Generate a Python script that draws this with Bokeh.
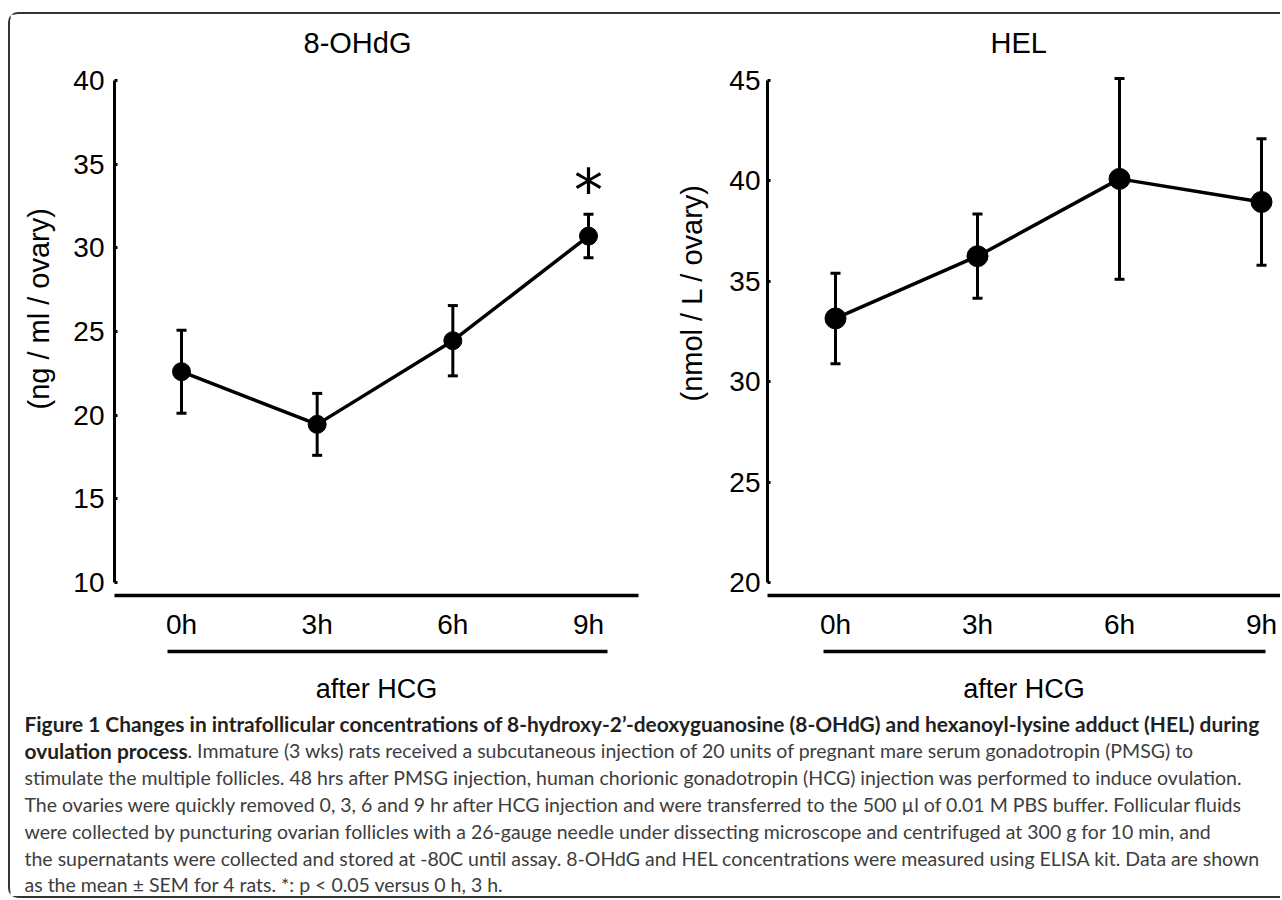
from bokeh.plotting import figure
from bokeh.layouts import column, row
from bokeh.models import Range1d, FixedTicker, LinearAxis, Title, Whisker, TeeHead, ColumnDataSource
from bokeh.core.properties import value
from bokeh.embed import file_html
from bokeh.resources import INLINE

# ---------------- data ----------------
hours = [0, 3, 6, 9]
time_labels = ["0h", "3h", "6h", "9h"]
x_title = "after HCG"

ohdg_title = "8-OHdG"
ohdg_ylabel = "(ng / ml / ovary)"
ohdg_mean = [22.6, 19.45, 24.45, 30.7]
ohdg_sem = [2.48, 1.85, 2.1, 1.3]
ohdg_ticks = [10, 15, 20, 25, 30, 35, 40]
ohdg_sig = [False, False, False, True]

hel_title = "HEL"
hel_ylabel = "(nmol / L / ovary)"
hel_mean = [33.15, 36.25, 40.1, 38.95]
hel_sem = [2.25, 2.1, 5.0, 3.15]
hel_ticks = [20, 25, 30, 35, 40, 45]
hel_sig = [False, False, False, False]

caption_bold_1 = "Figure 1 Changes in intrafollicular concentrations of 8-hydroxy-2\u2019-deoxyguanosine (8-OHdG) and hexanoyl-lysine adduct (HEL) during"
caption_bold_2 = "ovulation process"
caption_rest_2 = ". Immature (3 wks) rats received a subcutaneous injection of 20 units of pregnant mare serum gonadotropin (PMSG) to"
caption_lines = [
    "stimulate the multiple follicles. 48 hrs after PMSG injection, human chorionic gonadotropin (HCG) injection was performed to induce ovulation.",
    "The ovaries were quickly removed 0, 3, 6 and 9 hr after HCG injection and were transferred to the 500 \u00b5l of 0.01 M PBS buffer. Follicular fluids",
    "were collected by puncturing ovarian follicles with a 26-gauge needle under dissecting microscope and centrifuged at 300 g for 10 min, and",
    "the supernatants were collected and stored at -80C until assay. 8-OHdG and HEL concentrations were measured using ELISA kit. Data are shown",
    "as the mean \u00b1 SEM for 4 rats. *: p < 0.05 versus 0 h, 3 h.",
]

FONT = "Liberation Sans"
FRAME_TOP = 56          # px from figure top to frame top
FRAME_H = 525
BELOW = 112
PANEL_H = FRAME_TOP + FRAME_H + BELOW
TICK_TOP_PAD = 10       # px between frame top and highest tick
TICK_BOT_PAD = 13       # px between lowest tick and x axis line


def panel(title, ylabel, mean, sem, ticks, sig, width, border_left, border_right,
          first_px, last_px, underline_px, title_left, ylabel_start, ylabel_pad,
          tick_standoff, marker_size):
    frame_w = width - border_left - border_right
    ppx = (last_px - first_px) / (hours[-1] - hours[0])
    x_start = hours[0] - first_px / ppx
    x_end = x_start + frame_w / ppx
    ppy = (FRAME_H - TICK_TOP_PAD - TICK_BOT_PAD) / (ticks[-1] - ticks[0])
    y_start = ticks[0] - TICK_BOT_PAD / ppy
    y_end = ticks[-1] + TICK_TOP_PAD / ppy

    p = figure(width=width, height=PANEL_H, output_backend="svg", toolbar_location=None,
               x_range=Range1d(x_start, x_end), y_range=Range1d(y_start, y_end),
               min_border_left=border_left, min_border_right=border_right,
               min_border_top=FRAME_TOP, min_border_bottom=BELOW)
    p.outline_line_color = None
    p.grid.visible = False
    p.background_fill_color = "white"
    p.border_fill_color = "white"

    p.title.text = title
    p.title.align = "left"
    p.title.offset = title_left
    p.title.vertical_align = "top"
    p.title.text_font = FONT
    p.title.text_font_size = "29px"
    p.title.text_font_style = "normal"
    p.title.text_color = "black"
    p.title.standoff = 20

    ya = p.yaxis[0]
    ya.ticker = FixedTicker(ticks=ticks)
    ya.bounds = (ticks[0], ticks[-1])
    ya.axis_line_width = 3
    ya.axis_line_color = "black"
    ya.major_tick_in = 3
    ya.major_tick_out = 0
    ya.major_tick_line_width = 3
    ya.minor_tick_line_color = None
    ya.major_label_text_font = FONT
    ya.major_label_text_font_size = "28px"
    ya.major_label_text_color = "black"
    ya.major_label_standoff = tick_standoff
    ya.axis_label = " "
    ya.axis_label_text_font_size = "1px"
    ya.axis_label_standoff = ylabel_pad

    yt = Title(text=ylabel, align="left", offset=ylabel_start,
               text_font=FONT, text_font_size="29px", text_font_style="normal", text_color="black")
    p.add_layout(yt, "left")

    xa = p.xaxis[0]
    xa.ticker = FixedTicker(ticks=hours)
    xa.major_label_overrides = {h: lab for h, lab in zip(hours, time_labels)}
    xa.axis_line_width = 3.5
    xa.axis_line_color = "black"
    xa.major_tick_in = 0
    xa.major_tick_out = 0
    xa.minor_tick_line_color = None
    xa.major_label_text_font = FONT
    xa.major_label_text_font_size = "28px"
    xa.major_label_text_color = "black"
    xa.major_label_standoff = 13
    xa.axis_label = " "
    xa.axis_label_text_font_size = "1px"
    xa.axis_label_standoff = 5

    xa2 = LinearAxis(ticker=FixedTicker(ticks=[]),
                     bounds=(hours[0] + (underline_px[0] - first_px) / ppx,
                             hours[0] + (underline_px[1] - first_px) / ppx))
    xa2.axis_line_width = 3.5
    xa2.axis_line_color = "black"
    xa2.major_tick_in = 0
    xa2.major_tick_out = 0
    xa2.minor_tick_line_color = None
    xa2.axis_label = x_title
    xa2.axis_label_text_font = FONT
    xa2.axis_label_text_font_size = "27px"
    xa2.axis_label_text_font_style = "normal"
    xa2.axis_label_text_color = "black"
    xa2.axis_label_standoff = 22
    p.add_layout(xa2, "below")

    src = ColumnDataSource(dict(x=hours, m=mean,
                                up=[a + b for a, b in zip(mean, sem)],
                                lo=[a - b for a, b in zip(mean, sem)]))
    p.add_layout(Whisker(source=src, base="x", upper="up", lower="lo",
                         line_color="black", line_width=3,
                         upper_head=TeeHead(size=10, line_width=3, line_color="black"),
                         lower_head=TeeHead(size=10, line_width=3, line_color="black")))
    p.line("x", "m", source=src, line_color="black", line_width=3.5)
    p.scatter("x", "m", source=src, size=marker_size, fill_color="black", line_color="black")

    sx = [h for h, s in zip(hours, sig) if s]
    sy = [a + b for a, b, s in zip(mean, sem, sig) if s]
    if sx:
        p.text(x=sx, y=sy, text=["*"] * len(sx), text_font=value("DejaVu Sans"),
               text_font_size="58px", text_align="center", text_baseline="alphabetic",
               text_color="black", y_offset=-23)
    return p


p1 = panel(ohdg_title, ohdg_ylabel, ohdg_mean, ohdg_sem, ohdg_ticks, ohdg_sig,
           width=630, border_left=104, border_right=2,
           first_px=67, last_px=474, underline_px=(53, 493),
           title_left=189, ylabel_start=186, ylabel_pad=7,
           tick_standoff=10, marker_size=18)
p2 = panel(hel_title, hel_ylabel, hel_mean, hel_sem, hel_ticks, hel_sig,
           width=640, border_left=127, border_right=0,
           first_px=68, last_px=494, underline_px=(56, 498),
           title_left=223, ylabel_start=194, ylabel_pad=10,
           tick_standoff=7, marker_size=21)

# ---------------- caption ----------------
CAP_W, CAP_H = 1270, 189
cap = figure(width=CAP_W, height=CAP_H, output_backend="svg", toolbar_location=None,
             x_range=Range1d(0, CAP_W), y_range=Range1d(CAP_H, 0),
             x_axis_type=None, y_axis_type=None, min_border=0)
cap.outline_line_color = None
cap.grid.visible = False

CAP_X = 14
BASE0 = 16
LEAD = 26.9
CAP_FONT = "Lato"
BOLD_SIZE = "20.9px"
REG_SIZE = "19.5px"
BOLD_W2 = 163  # width of the bold run in line 2

cap.text(x=[CAP_X, CAP_X], y=[BASE0, BASE0 + LEAD], text=[caption_bold_1, caption_bold_2],
         text_font=value(CAP_FONT), text_font_style="bold", text_font_size=BOLD_SIZE,
         text_color="#231f20", text_baseline="alphabetic", text_align="left")
reg_x = [CAP_X + BOLD_W2] + [CAP_X] * len(caption_lines)
reg_y = [BASE0 + LEAD] + [BASE0 + LEAD * (i + 2) for i in range(len(caption_lines))]
cap.text(x=reg_x, y=reg_y, text=[caption_rest_2] + caption_lines,
         text_font=value(CAP_FONT), text_font_size=REG_SIZE,
         text_color="#3d3d3d", text_baseline="alphabetic", text_align="left")

layout = column(row(p1, p2), cap,
                styles={"border-top": "2px solid #333333",
                        "border-left": "2px solid #333333",
                        "border-bottom": "2px solid #333333",
                        "border-right": "0px none",
                        "border-top-left-radius": "10px",
                        "border-bottom-left-radius": "10px",
                        "margin-top": "12px",
                        "margin-left": "8px"})

open("out.html", "w").write(file_html(layout, INLINE))
